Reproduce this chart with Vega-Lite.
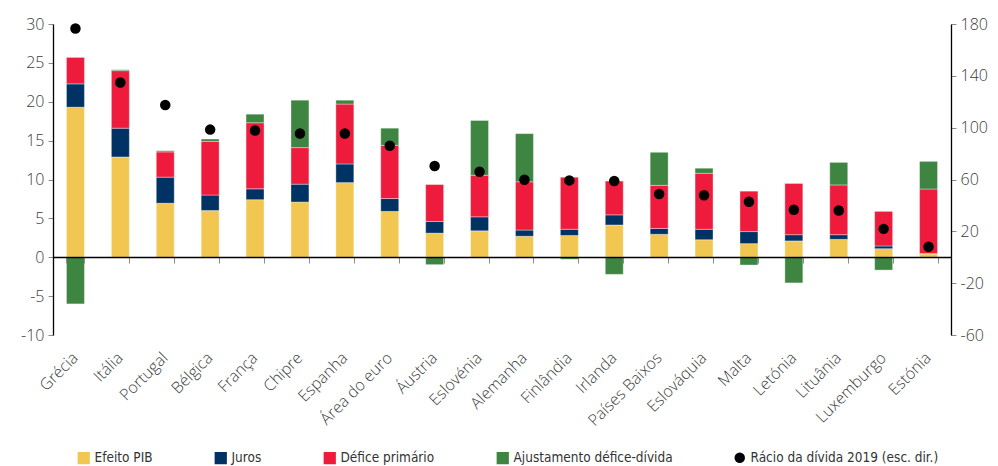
{
  "$schema": "https://vega.github.io/schema/vega-lite/v6.json",
  "width": 898,
  "height": 311,
  "autosize": {"type": "none"},
  "padding": {"left": 53, "top": 24, "right": 47, "bottom": 131},
  "background": "white",
  "config": {
    "view": {"stroke": null},
    "font": "Open Sans",
    "axis": {
      "labelFont": "Open Sans",
      "labelFontSize": 16,
      "labelColor": "#3c3c3c",
      "labelFontWeight": 300,
      "domainColor": "#000000",
      "domainWidth": 1.3,
      "tickColor": "#8c8c8c",
      "tickSize": 5,
      "grid": false,
      "title": null
    },
    "legend": {
      "labelFont": "DejaVu Sans Condensed, Open Sans",
      "labelFontSize": 13.5,
      "labelColor": "#333333",
      "labelLimit": 400,
      "labelOffset": 4,
      "padding": 0,
      "title": null
    }
  },
  "datasets": {
    "componentes": [
      {"pais": "Grécia", "comp": "Efeito PIB", "ordem": 1, "valor": 19.3},
      {"pais": "Grécia", "comp": "Juros", "ordem": 2, "valor": 3.0},
      {"pais": "Grécia", "comp": "Défice primário", "ordem": 3, "valor": 3.4},
      {"pais": "Grécia", "comp": "Ajustamento défice-dívida", "ordem": 4, "valor": -6.0},
      {"pais": "Itália", "comp": "Efeito PIB", "ordem": 1, "valor": 12.9},
      {"pais": "Itália", "comp": "Juros", "ordem": 2, "valor": 3.7},
      {"pais": "Itália", "comp": "Défice primário", "ordem": 3, "valor": 7.4},
      {"pais": "Itália", "comp": "Ajustamento défice-dívida", "ordem": 4, "valor": 0.1},
      {"pais": "Portugal", "comp": "Efeito PIB", "ordem": 1, "valor": 6.95},
      {"pais": "Portugal", "comp": "Juros", "ordem": 2, "valor": 3.35},
      {"pais": "Portugal", "comp": "Défice primário", "ordem": 3, "valor": 3.25},
      {"pais": "Portugal", "comp": "Ajustamento défice-dívida", "ordem": 4, "valor": 0.15},
      {"pais": "Bélgica", "comp": "Efeito PIB", "ordem": 1, "valor": 6.0},
      {"pais": "Bélgica", "comp": "Juros", "ordem": 2, "valor": 2.0},
      {"pais": "Bélgica", "comp": "Défice primário", "ordem": 3, "valor": 6.9},
      {"pais": "Bélgica", "comp": "Ajustamento défice-dívida", "ordem": 4, "valor": 0.3},
      {"pais": "França", "comp": "Efeito PIB", "ordem": 1, "valor": 7.4},
      {"pais": "França", "comp": "Juros", "ordem": 2, "valor": 1.4},
      {"pais": "França", "comp": "Défice primário", "ordem": 3, "valor": 8.5},
      {"pais": "França", "comp": "Ajustamento défice-dívida", "ordem": 4, "valor": 1.1},
      {"pais": "Chipre", "comp": "Efeito PIB", "ordem": 1, "valor": 7.1},
      {"pais": "Chipre", "comp": "Juros", "ordem": 2, "valor": 2.3},
      {"pais": "Chipre", "comp": "Défice primário", "ordem": 3, "valor": 4.7},
      {"pais": "Chipre", "comp": "Ajustamento défice-dívida", "ordem": 4, "valor": 6.1},
      {"pais": "Espanha", "comp": "Efeito PIB", "ordem": 1, "valor": 9.6},
      {"pais": "Espanha", "comp": "Juros", "ordem": 2, "valor": 2.4},
      {"pais": "Espanha", "comp": "Défice primário", "ordem": 3, "valor": 7.7},
      {"pais": "Espanha", "comp": "Ajustamento défice-dívida", "ordem": 4, "valor": 0.5},
      {"pais": "Área do euro", "comp": "Efeito PIB", "ordem": 1, "valor": 5.9},
      {"pais": "Área do euro", "comp": "Juros", "ordem": 2, "valor": 1.65},
      {"pais": "Área do euro", "comp": "Défice primário", "ordem": 3, "valor": 6.85},
      {"pais": "Área do euro", "comp": "Ajustamento défice-dívida", "ordem": 4, "valor": 2.2},
      {"pais": "Áustria", "comp": "Efeito PIB", "ordem": 1, "valor": 3.1},
      {"pais": "Áustria", "comp": "Juros", "ordem": 2, "valor": 1.5},
      {"pais": "Áustria", "comp": "Défice primário", "ordem": 3, "valor": 4.75},
      {"pais": "Áustria", "comp": "Ajustamento défice-dívida", "ordem": 4, "valor": -0.95},
      {"pais": "Eslovénia", "comp": "Efeito PIB", "ordem": 1, "valor": 3.4},
      {"pais": "Eslovénia", "comp": "Juros", "ordem": 2, "valor": 1.8},
      {"pais": "Eslovénia", "comp": "Défice primário", "ordem": 3, "valor": 5.35},
      {"pais": "Eslovénia", "comp": "Ajustamento défice-dívida", "ordem": 4, "valor": 7.05},
      {"pais": "Alemanha", "comp": "Efeito PIB", "ordem": 1, "valor": 2.7},
      {"pais": "Alemanha", "comp": "Juros", "ordem": 2, "valor": 0.8},
      {"pais": "Alemanha", "comp": "Défice primário", "ordem": 3, "valor": 6.2},
      {"pais": "Alemanha", "comp": "Ajustamento défice-dívida", "ordem": 4, "valor": 6.2},
      {"pais": "Finlândia", "comp": "Efeito PIB", "ordem": 1, "valor": 2.8},
      {"pais": "Finlândia", "comp": "Juros", "ordem": 2, "valor": 0.8},
      {"pais": "Finlândia", "comp": "Défice primário", "ordem": 3, "valor": 6.7},
      {"pais": "Finlândia", "comp": "Ajustamento défice-dívida", "ordem": 4, "valor": -0.25},
      {"pais": "Irlanda", "comp": "Efeito PIB", "ordem": 1, "valor": 4.15},
      {"pais": "Irlanda", "comp": "Juros", "ordem": 2, "valor": 1.3},
      {"pais": "Irlanda", "comp": "Défice primário", "ordem": 3, "valor": 4.35},
      {"pais": "Irlanda", "comp": "Ajustamento défice-dívida", "ordem": 4, "valor": -2.2},
      {"pais": "Países Baixos", "comp": "Efeito PIB", "ordem": 1, "valor": 2.95},
      {"pais": "Países Baixos", "comp": "Juros", "ordem": 2, "valor": 0.75},
      {"pais": "Países Baixos", "comp": "Défice primário", "ordem": 3, "valor": 5.55},
      {"pais": "Países Baixos", "comp": "Ajustamento défice-dívida", "ordem": 4, "valor": 4.25},
      {"pais": "Eslováquia", "comp": "Efeito PIB", "ordem": 1, "valor": 2.25},
      {"pais": "Eslováquia", "comp": "Juros", "ordem": 2, "valor": 1.35},
      {"pais": "Eslováquia", "comp": "Défice primário", "ordem": 3, "valor": 7.2},
      {"pais": "Eslováquia", "comp": "Ajustamento défice-dívida", "ordem": 4, "valor": 0.65},
      {"pais": "Malta", "comp": "Efeito PIB", "ordem": 1, "valor": 1.75},
      {"pais": "Malta", "comp": "Juros", "ordem": 2, "valor": 1.55},
      {"pais": "Malta", "comp": "Défice primário", "ordem": 3, "valor": 5.2},
      {"pais": "Malta", "comp": "Ajustamento défice-dívida", "ordem": 4, "valor": -1.0},
      {"pais": "Letónia", "comp": "Efeito PIB", "ordem": 1, "valor": 2.1},
      {"pais": "Letónia", "comp": "Juros", "ordem": 2, "valor": 0.8},
      {"pais": "Letónia", "comp": "Défice primário", "ordem": 3, "valor": 6.6},
      {"pais": "Letónia", "comp": "Ajustamento défice-dívida", "ordem": 4, "valor": -3.3},
      {"pais": "Lituânia", "comp": "Efeito PIB", "ordem": 1, "valor": 2.3},
      {"pais": "Lituânia", "comp": "Juros", "ordem": 2, "valor": 0.6},
      {"pais": "Lituânia", "comp": "Défice primário", "ordem": 3, "valor": 6.4},
      {"pais": "Lituânia", "comp": "Ajustamento défice-dívida", "ordem": 4, "valor": 2.9},
      {"pais": "Luxemburgo", "comp": "Efeito PIB", "ordem": 1, "valor": 1.1},
      {"pais": "Luxemburgo", "comp": "Juros", "ordem": 2, "valor": 0.35},
      {"pais": "Luxemburgo", "comp": "Défice primário", "ordem": 3, "valor": 4.45},
      {"pais": "Luxemburgo", "comp": "Ajustamento défice-dívida", "ordem": 4, "valor": -1.65},
      {"pais": "Estónia", "comp": "Efeito PIB", "ordem": 1, "valor": 0.43},
      {"pais": "Estónia", "comp": "Juros", "ordem": 2, "valor": 0.05},
      {"pais": "Estónia", "comp": "Défice primário", "ordem": 3, "valor": 8.3},
      {"pais": "Estónia", "comp": "Ajustamento défice-dívida", "ordem": 4, "valor": 3.55}
    ],
    "divida": [
      {"pais": "Grécia", "racio": 176.5},
      {"pais": "Itália", "racio": 134.8},
      {"pais": "Portugal", "racio": 117.5},
      {"pais": "Bélgica", "racio": 98.5},
      {"pais": "França", "racio": 97.8},
      {"pais": "Chipre", "racio": 95.5},
      {"pais": "Espanha", "racio": 95.5},
      {"pais": "Área do euro", "racio": 86.0},
      {"pais": "Áustria", "racio": 70.4},
      {"pais": "Eslovénia", "racio": 66.0},
      {"pais": "Alemanha", "racio": 59.8},
      {"pais": "Finlândia", "racio": 59.3},
      {"pais": "Irlanda", "racio": 58.8},
      {"pais": "Países Baixos", "racio": 48.8},
      {"pais": "Eslováquia", "racio": 47.8},
      {"pais": "Malta", "racio": 42.8},
      {"pais": "Letónia", "racio": 36.6},
      {"pais": "Lituânia", "racio": 36.1},
      {"pais": "Luxemburgo", "racio": 21.9},
      {"pais": "Estónia", "racio": 8.1}
    ]
  },
  "layer": [
    {
      "data": {"name": "componentes"},
      "mark": {"type": "bar", "stroke": "#ffffff", "strokeWidth": 0.6, "strokeOpacity": 0.6},
      "encoding": {
        "x": {
          "field": "pais",
          "type": "nominal",
          "sort": ["Grécia", "Itália", "Portugal", "Bélgica", "França", "Chipre", "Espanha", "Área do euro", "Áustria", "Eslovénia", "Alemanha", "Finlândia", "Irlanda", "Países Baixos", "Eslováquia", "Malta", "Letónia", "Lituânia", "Luxemburgo", "Estónia"],
          "scale": {"paddingInner": 0.6, "paddingOuter": 0.3},
          "axis": {
            "orient": "bottom",
            "domain": false,
            "ticks": false,
            "labelAngle": -45,
            "labelAlign": "right",
            "labelBaseline": "middle",
            "labelPadding": 20
          }
        },
        "y": {
          "field": "valor",
          "type": "quantitative",
          "stack": "zero",
          "scale": {"domain": [-10, 30], "nice": false, "zero": false},
          "axis": {
            "orient": "left",
            "values": [-10, -5, 0, 5, 10, 15, 20, 25, 30],
            "labelPadding": 4,
            "labelExpr": "replace(datum.label, '−', '-')"
          }
        },
        "color": {
          "field": "comp",
          "type": "nominal",
          "scale": {
            "domain": ["Efeito PIB", "Juros", "Défice primário", "Ajustamento défice-dívida"],
            "range": ["#F2C751", "#003263", "#EE1B3C", "#3D8540"]
          },
          "legend": {
            "orient": "none",
            "legendX": 24,
            "legendY": 427,
            "direction": "horizontal",
            "columnPadding": 61,
            "symbolType": "square",
            "symbolSize": 150,
            "symbolStrokeWidth": 0
          }
        },
        "order": {"field": "ordem", "type": "quantitative"}
      }
    },
    {
      "data": {"name": "divida"},
      "mark": {"type": "point", "shape": "circle", "filled": true, "size": 110, "opacity": 1, "color": "#000000"},
      "encoding": {
        "x": {
          "field": "pais",
          "type": "nominal",
          "sort": ["Grécia", "Itália", "Portugal", "Bélgica", "França", "Chipre", "Espanha", "Área do euro", "Áustria", "Eslovénia", "Alemanha", "Finlândia", "Irlanda", "Países Baixos", "Eslováquia", "Malta", "Letónia", "Lituânia", "Luxemburgo", "Estónia"],
          "axis": {
            "orient": "bottom",
            "offset": -78,
            "labels": false,
            "domain": true,
            "ticks": true,
            "tickBand": "extent",
            "tickSize": 6,
            "zindex": 1
          }
        },
        "y": {
          "field": "racio",
          "type": "quantitative",
          "scale": {"domain": [-60, 180], "nice": false, "zero": false},
          "axis": {
            "orient": "right",
            "values": [-60, -20, 20, 60, 100, 140, 180],
            "labelPadding": 4,
            "labelExpr": "replace(datum.label, '−', '-')"
          }
        },
        "shape": {
          "datum": "Rácio da dívida 2019 (esc. dir.)",
          "scale": {"range": ["circle"]},
          "legend": {
            "orient": "none",
            "legendX": 680,
            "legendY": 427,
            "direction": "horizontal",
            "symbolSize": 110,
            "symbolFillColor": "#000000",
            "symbolStrokeColor": "#000000",
            "symbolStrokeWidth": 0
          }
        }
      }
    }
  ],
  "resolve": {"scale": {"y": "independent"}, "axis": {"x": "independent", "y": "independent"}}
}
